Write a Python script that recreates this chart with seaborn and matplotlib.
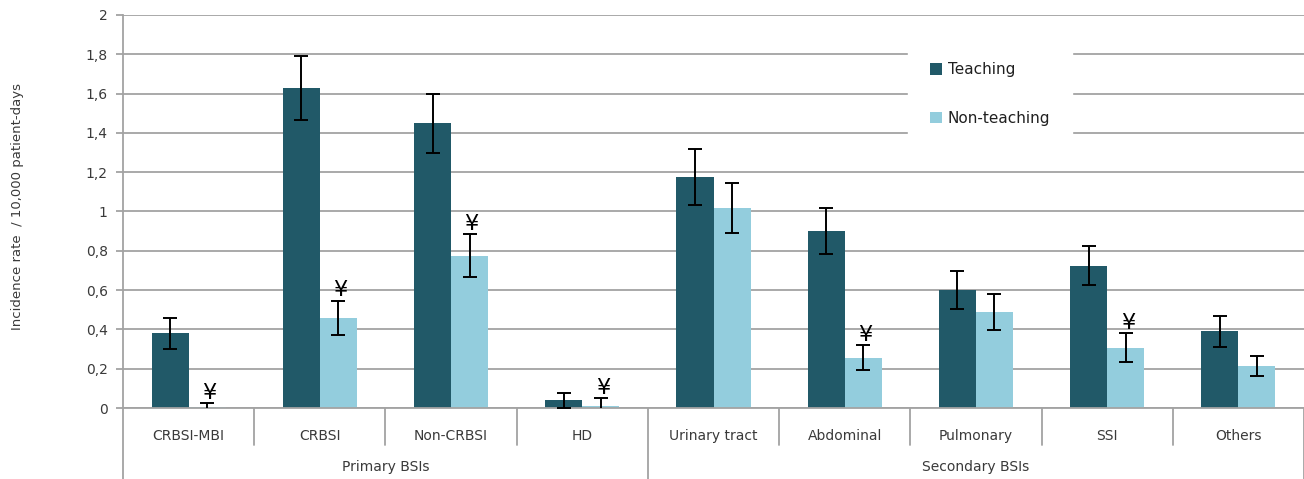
import matplotlib
matplotlib.use("Agg")
import matplotlib.pyplot as plt
import matplotlib.transforms as mtransforms
from matplotlib.lines import Line2D
from matplotlib.ticker import FuncFormatter, MultipleLocator
import pandas as pd
import seaborn as sns

# Incidence of bloodstream infections per 10,000 patient-days
categories = ["CRBSI-MBI", "CRBSI", "Non-CRBSI", "HD",
              "Urinary tract", "Abdominal", "Pulmonary", "SSI", "Others"]
groups = ["Primary BSIs", "Secondary BSIs"]
group_sizes = [4, 5]
series = ["Teaching", "Non-teaching"]

teaching = [0.38, 1.63, 1.45, 0.04, 1.175, 0.90, 0.60, 0.725, 0.39]
teaching_err = [0.08, 0.163, 0.15, 0.038, 0.143, 0.118, 0.098, 0.10, 0.08]
non_teaching = [0.005, 0.46, 0.775, 0.012, 1.02, 0.256, 0.49, 0.307, 0.215]
non_teaching_err = [0.02, 0.087, 0.11, 0.038, 0.127, 0.063, 0.092, 0.075, 0.052]

# categories where the non-teaching rate differs significantly
flagged = ["CRBSI-MBI", "CRBSI", "Non-CRBSI", "HD", "Abdominal", "SSI"]

colors = ["#215968", "#93CDDD"]
grid_col = "#a3a3a3"
text_col = "#3a3a3a"

df = pd.DataFrame({
    "category": categories * 2,
    "series": [series[0]] * len(categories) + [series[1]] * len(categories),
    "rate": teaching + non_teaching,
    "err": teaching_err + non_teaching_err,
})

sns.set_style("white")
plt.rcParams["font.family"] = ["DejaVu Sans"]

fig = plt.figure(figsize=(13.04, 4.79), dpi=100)
ax = fig.add_axes([123 / 1304, 1 - 408 / 479, 1181 / 1304, 393 / 479])

sns.barplot(data=df, x="category", y="rate", hue="series",
            order=categories, hue_order=series, palette=colors,
            width=0.565, gap=0, errorbar=None, saturation=1,
            linewidth=0, ax=ax)

# error bars at the centre of each drawn bar
centers = {}
for i, s in enumerate(series):
    sub = df[df["series"] == s]
    for j, (cat, val, e) in enumerate(zip(sub["category"], sub["rate"], sub["err"])):
        p = ax.patches[i * len(categories) + j]
        x = p.get_x() + p.get_width() / 2
        centers[(s, cat)] = (x, val, e)
        ax.errorbar(x, val, yerr=e, fmt="none", ecolor="black",
                    elinewidth=1.4, capsize=4.8, capthick=1.4, zorder=4)

# significance markers above the non-teaching error bars
for cat in flagged:
    x, val, e = centers[(series[1], cat)]
    ax.annotate("\u00a5", xy=(x, val + e), xytext=(1.5, 3),
                textcoords="offset points", ha="center", va="baseline",
                fontsize=16, color="black", zorder=5)

ax.set_ylim(0, 2)
ax.set_xlim(-0.5, len(categories) - 0.5)
ax.yaxis.set_major_locator(MultipleLocator(0.2))
ax.yaxis.set_major_formatter(
    FuncFormatter(lambda v, _: ("%g" % round(v, 1)).replace(".", ",")))
ax.grid(axis="y", color=grid_col, linewidth=1.3)
ax.set_axisbelow(True)
for side in ["top", "right"]:
    ax.spines[side].set_visible(False)
ax.spines["left"].set_color(grid_col)
ax.spines["left"].set_linewidth(1.3)
ax.spines["bottom"].set_color(grid_col)
ax.spines["bottom"].set_linewidth(1.3)
ax.tick_params(axis="y", length=5, width=1.3, color=grid_col,
               labelsize=10, labelcolor=text_col, pad=6, left=True)
ax.set_xticks([])
ax.set_xlabel("")
ax.set_ylabel("")

# two-level category axis
trans = mtransforms.blended_transform_factory(ax.transData, ax.transAxes)
for j, cat in enumerate(categories):
    ax.text(j, -0.07, cat, transform=trans, ha="center", va="center",
            fontsize=10, color=text_col)
starts = [0]
for n in group_sizes:
    starts.append(starts[-1] + n)
boundaries = [j - 0.5 for j in range(len(categories) + 1)]
group_edges = [s - 0.5 for s in starts]
for b in boundaries:
    low = -0.2 if b in group_edges else -0.094
    ax.add_line(Line2D([b, b], [0, low], transform=trans, color=grid_col,
                       linewidth=1.3, clip_on=False))
for g, a, n in zip(groups, starts, group_sizes):
    ax.text(a + (n - 1) / 2, -0.151, g, transform=trans, ha="center",
            va="center", fontsize=10, color=text_col)

fig.text(18 / 1304, 1 - 206 / 479, "Incidence rate  / 10,000 patient-days",
         rotation=90, ha="center", va="center", fontsize=9.5, color=text_col)

leg = ax.legend(loc="center", bbox_to_anchor=(990 / 1304, 1 - 94 / 479),
                bbox_transform=fig.transFigure, frameon=True, fancybox=False,
                framealpha=1, edgecolor="white", facecolor="white",
                fontsize=11, labelspacing=2.18, handlelength=0.78,
                handleheight=0.78, handletextpad=0.4, borderpad=1.4,
                borderaxespad=0)
for t in leg.get_texts():
    t.set_color("#202020")

fig.savefig("out.png", dpi=100)
